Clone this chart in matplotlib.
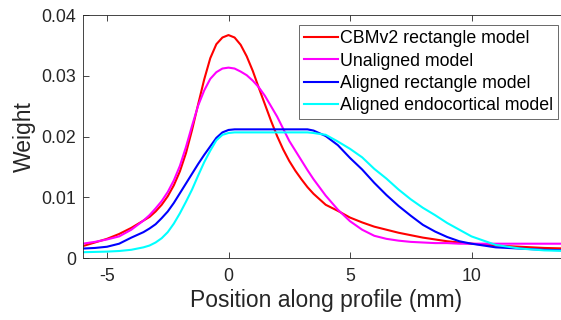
import matplotlib

matplotlib.use("Agg")
import matplotlib.pyplot as plt

plt.rcParams["font.family"] = ["Liberation Sans", "DejaVu Sans"]
plt.rcParams["axes.unicode_minus"] = False

# position along profile (mm)
X = [-6, -5.5, -5, -4.5, -4,
     -3.5, -3.25, -3, -2.75, -2.5, -2.25, -2, -1.75, -1.5, -1.25, -1, -0.75,
     -0.5, -0.25, 0, 0.25, 0.5, 0.75, 1, 1.25, 1.5, 1.75, 2, 2.25, 2.5, 2.75,
     3, 3.25, 3.5,
     4, 4.5, 5, 5.5, 6, 6.5, 7, 7.5, 8, 8.5, 9, 9.5,
     10, 11, 12, 13, 14]

CBM_RECT = [0.0020, 0.0026, 0.0032, 0.0040, 0.0050,
            0.0062, 0.0068, 0.0077, 0.0088, 0.0102, 0.0120, 0.0143, 0.0173,
            0.0211, 0.0253, 0.0294, 0.0329, 0.0352, 0.0363, 0.0367, 0.0363,
            0.0351, 0.0332, 0.0308, 0.0280, 0.0253, 0.0226, 0.0201, 0.0179,
            0.0160, 0.0144, 0.0130, 0.0117, 0.0106,
            0.0088, 0.0078, 0.0067, 0.0059, 0.0052, 0.0047, 0.0042, 0.0038,
            0.0034, 0.0031, 0.0028, 0.0026,
            0.0024, 0.0021, 0.0019, 0.0017, 0.0016]

UNALIGNED = [0.0024, 0.0027, 0.0031, 0.0036, 0.0047,
             0.0062, 0.0071, 0.0082, 0.0094, 0.0109, 0.0128, 0.0152, 0.0183,
             0.0218, 0.0251, 0.0276, 0.0295, 0.0306, 0.0312, 0.03135, 0.0312,
             0.0307, 0.0301, 0.0292, 0.0281, 0.0267, 0.0250, 0.0233, 0.0213,
             0.0193, 0.0177, 0.0161, 0.0145, 0.0130,
             0.0103, 0.0080, 0.0061, 0.0047, 0.0037, 0.0032, 0.0029, 0.0027,
             0.0026, 0.0025, 0.0025, 0.0024,
             0.0024, 0.0024, 0.0024, 0.0024, 0.0024]

ALIGNED_RECT = [0.0016, 0.0017, 0.0019, 0.0024, 0.0034,
                0.0043, 0.0049, 0.0056, 0.0066, 0.0077, 0.0091, 0.0107, 0.0123,
                0.0139, 0.0155, 0.0170, 0.0184, 0.0198, 0.0207, 0.0211, 0.0212,
                0.0212, 0.0212, 0.0212, 0.0212, 0.0212, 0.0212, 0.0212, 0.0212,
                0.0212, 0.0212, 0.0212, 0.0212, 0.0210,
                0.0201, 0.0186, 0.0165, 0.0146, 0.0124, 0.0104, 0.0086, 0.0070,
                0.0055, 0.0044, 0.0035, 0.0028,
                0.0024, 0.0018, 0.0016, 0.0014, 0.0013]

ALIGNED_ENDO = [0.0010, 0.00105, 0.0011, 0.0012, 0.0014,
                0.0018, 0.0021, 0.0026, 0.0033, 0.0043, 0.0057, 0.0074, 0.0093,
                0.0113, 0.0136, 0.0158, 0.0177, 0.0194, 0.0203, 0.0206, 0.0207,
                0.0207, 0.0207, 0.0207, 0.0207, 0.0207, 0.0207, 0.0207, 0.0207,
                0.0207, 0.0207, 0.0207, 0.0207, 0.0206,
                0.0203, 0.0192, 0.0180, 0.0166, 0.0147, 0.0131, 0.0113, 0.0097,
                0.0083, 0.0071, 0.0058, 0.0047,
                0.0036, 0.0022, 0.0016, 0.0013, 0.0012]

SERIES = [
    ("CBMv2 rectangle model", CBM_RECT, "#FF0000"),
    ("Unaligned model", UNALIGNED, "#FF00FF"),
    ("Aligned rectangle model", ALIGNED_RECT, "#0000FF"),
    ("Aligned endocortical model", ALIGNED_ENDO, "#00FFFF"),
]

fig = plt.figure(figsize=(5.61, 3.2), dpi=100)
ax = fig.add_axes([82.7 / 561, 1 - 258.3 / 320, 486 / 561, 243.3 / 320])

for label, values, color in SERIES:
    ax.plot(X, values, color=color, linewidth=1.5, label=label,
            solid_joinstyle="round")

ax.set_xlim(-6, 14)
ax.set_ylim(0, 0.04)
ax.set_xticks([-5, 0, 5, 10])
ax.set_yticks([0, 0.01, 0.02, 0.03, 0.04])
ax.set_yticklabels(["0", "0.01", "0.02", "0.03", "0.04"])

for side in ["left", "bottom", "top", "right"]:
    ax.spines[side].set_color("#262626")
    ax.spines[side].set_linewidth(0.6)
ax.tick_params(direction="in", length=4, width=0.6, color="#262626",
               labelcolor="#262626", labelsize=12.8, top=True, right=True)
ax.tick_params(axis="x", pad=7)
ax.tick_params(axis="y", pad=5)

ax.set_xlabel("Position along profile (mm)", fontsize=16.5, color="#262626")
ax.set_ylabel("Weight", fontsize=16.5, color="#262626")
ax.xaxis.set_label_coords(0.5, -0.125)
ax.yaxis.set_label_coords(-0.097, 0.5)

leg = ax.legend(loc="upper right", bbox_to_anchor=(0.9786, 0.9577),
                fontsize=12.8, frameon=True, fancybox=False, borderaxespad=0,
                handlelength=1.9, handletextpad=0.15, borderpad=0.28,
                labelspacing=0.3)
leg.get_frame().set_edgecolor("#262626")
leg.get_frame().set_linewidth(0.6)

fig.savefig("out.png", dpi=100)
